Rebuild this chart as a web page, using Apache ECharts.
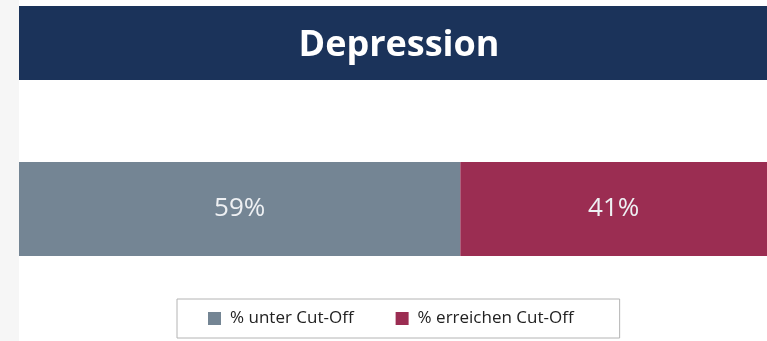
<!DOCTYPE html>
<html>
<head>
<meta charset="utf-8">
<script src="https://cdn.jsdelivr.net/npm/echarts@6/dist/echarts.min.js"></script>
<style>
  html, body {margin: 0; padding: 0; background: #fff;}
  #chart {width: 767px; height: 341px;}
</style>
</head>
<body>
<div id="chart"></div>
<script>
  // data
  const seriesNames = ['% unter Cut-Off', '% erreichen Cut-Off'];
  const seriesValues = [59, 41];
  const categories = ['Depression'];
  const colors = ['#748594', '#9b2d52'];

  const chart = echarts.init(document.getElementById('chart'));
  const font = '"Open Sans", sans-serif';

  chart.setOption({
    animation: false,
    color: colors,
    graphic: [
      {type: 'rect', left: 0, top: 0, shape: {width: 19, height: 341}, style: {fill: '#f6f6f6'}, z: -1},
      {type: 'rect', left: 19, top: 6, shape: {width: 748, height: 74}, style: {fill: '#1b335a'}, z: -1}
    ],
    title: {
      text: categories[0],
      left: 394,
      top: 23,
      textAlign: 'center',
      textStyle: {color: '#fff', fontSize: 36, fontWeight: 'bold', fontFamily: font}
    },
    legend: {
      left: 177,
      top: 299,
      padding: [11, 46, 11, 31],
      borderColor: '#b4b4b4',
      borderWidth: 1,
      icon: 'rect',
      itemWidth: 13,
      itemHeight: 13,
      itemGap: 42,
      textStyle: {color: '#222', fontSize: 17, fontFamily: font, padding: [0, 0, 0, 4]},
      data: seriesNames
    },
    grid: {left: 19, right: 0, top: 162, height: 94},
    xAxis: {type: 'value', min: 0, max: 100, show: false},
    yAxis: {type: 'category', data: categories, show: false},
    series: seriesNames.map((name, i) => ({
      name: name,
      type: 'bar',
      stack: 'total',
      barWidth: '100%',
      data: [seriesValues[i]],
      label: {
        show: true,
        position: 'inside',
        formatter: '{c}%',
        color: '#eef0f3',
        fontSize: 26,
        fontFamily: font
      }
    }))
  });
</script>
</body>
</html>
